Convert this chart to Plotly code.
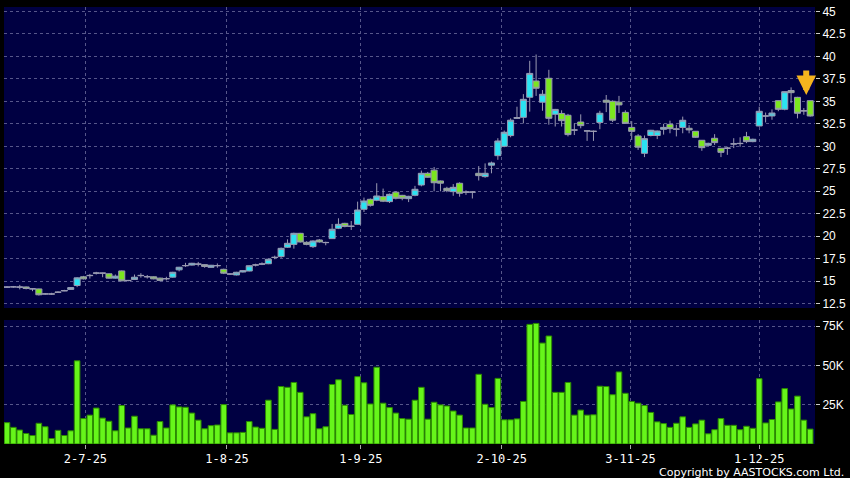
import plotly.graph_objects as go

# ---- data ----
opens = [14.35, 14.38, 14.33, 14.37, 14.18, 14.15, 13.58, 13.60, 13.75, 13.92,
         14.10, 14.53, 15.50, 15.62, 15.90, 15.92, 15.83, 15.35, 16.15, 15.10,
         15.20, 15.62, 15.52, 15.50, 15.35, 15.27, 15.46, 16.27, 16.72, 16.80,
         16.92, 16.85, 16.55, 16.72, 16.33, 15.82, 15.70, 16.03, 16.14, 16.80,
         16.90, 16.95, 17.64, 17.74, 18.78, 19.10, 20.33, 19.33, 18.85, 19.59,
         19.32, 19.74, 20.89, 21.44, 21.10, 21.33, 23.00, 24.11, 24.00, 24.40,
         23.85, 24.90, 24.55, 24.18, 24.55, 25.70, 27.00, 27.35, 26.15, 25.33,
         24.96, 25.89, 24.92, 24.90, 27.00, 26.63, 27.90, 28.96, 30.00, 31.19,
         33.10, 33.22, 35.45, 37.26, 34.90, 37.56, 33.56, 33.65, 33.45, 31.82,
         32.70, 31.72, 31.65, 32.65, 35.12, 35.00, 34.90, 33.77, 32.10, 31.15,
         29.22, 31.20, 31.20, 31.89, 32.44, 31.90, 32.10, 32.00, 31.67, 30.67,
         30.11, 30.89, 29.78, 29.78, 30.25, 30.30, 31.07, 30.52, 32.26, 33.35,
         33.37, 35.07, 34.11, 36.20, 35.44, 33.92, 35.07]
highs = [14.45, 14.48, 14.60, 14.42, 14.20, 14.18, 13.70, 13.72, 13.88, 14.05,
         14.35, 15.45, 15.60, 15.82, 16.05, 15.95, 15.88, 15.75, 16.20, 15.15,
         15.75, 15.90, 15.70, 15.55, 15.40, 15.50, 16.05, 16.60, 17.05, 17.05,
         17.15, 16.90, 16.82, 16.98, 16.40, 15.88, 16.05, 16.22, 16.78, 16.95,
         17.10, 17.50, 17.85, 18.75, 19.66, 20.40, 20.38, 19.45, 19.55, 19.70,
         19.40, 21.37, 22.00, 21.50, 21.70, 23.85, 24.30, 24.20, 25.90, 25.30,
         24.75, 25.00, 24.60, 24.50, 25.60, 27.30, 27.15, 27.70, 26.20, 25.50,
         25.80, 26.00, 25.10, 25.00, 27.80, 28.10, 28.30, 30.90, 31.75, 33.10,
         34.40, 35.80, 39.50, 40.20, 36.25, 38.50, 34.15, 34.00, 33.60, 32.55,
         33.55, 31.75, 31.75, 33.95, 35.70, 35.10, 35.60, 34.00, 32.80, 31.35,
         31.20, 31.82, 31.75, 32.50, 32.85, 32.40, 33.30, 32.35, 31.70, 30.70,
         30.40, 31.35, 29.80, 29.95, 30.90, 31.00, 31.60, 30.85, 34.40, 33.75,
         34.10, 35.10, 36.10, 36.55, 35.50, 34.25, 35.10]
lows = [14.25, 14.28, 14.10, 14.10, 13.90, 13.42, 13.50, 13.48, 13.70, 13.90,
        14.05, 14.35, 15.20, 15.30, 15.75, 15.45, 15.30, 15.30, 15.00, 15.00,
        15.15, 15.40, 15.30, 15.22, 15.00, 15.10, 15.40, 16.10, 16.60, 16.75,
        16.65, 16.50, 16.50, 16.50, 15.80, 15.72, 15.65, 15.98, 16.10, 16.65,
        16.80, 16.90, 17.45, 17.60, 18.70, 18.63, 19.30, 19.00, 18.70, 19.30,
        19.00, 19.70, 20.80, 21.00, 20.70, 21.30, 22.70, 23.30, 23.90, 23.80,
        23.70, 24.10, 24.00, 23.80, 24.45, 25.55, 26.50, 25.00, 25.00, 24.90,
        24.50, 24.40, 24.60, 24.20, 26.20, 26.50, 27.00, 28.50, 29.90, 31.00,
        33.05, 32.55, 33.85, 35.60, 33.95, 32.40, 32.20, 32.20, 31.10, 31.25,
        32.00, 30.60, 30.60, 31.90, 33.80, 32.70, 33.70, 32.50, 30.70, 29.60,
        28.80, 31.10, 30.80, 31.30, 31.45, 31.10, 31.45, 31.45, 30.95, 29.50,
        30.05, 30.15, 28.80, 29.05, 29.80, 29.95, 30.35, 30.45, 32.20, 32.65,
        32.95, 33.90, 34.00, 34.80, 33.10, 33.50, 33.30]
closes = [14.36, 14.38, 14.37, 14.20, 14.15, 13.50, 13.60, 13.58, 13.80, 13.97,
          14.30, 15.38, 15.27, 15.65, 15.92, 15.90, 15.35, 15.57, 15.05, 15.08,
          15.45, 15.65, 15.50, 15.27, 15.10, 15.30, 16.00, 16.56, 16.75, 17.00,
          16.90, 16.65, 16.78, 16.75, 15.90, 15.80, 16.00, 16.18, 16.73, 16.82,
          16.93, 17.45, 17.66, 18.66, 19.22, 20.33, 19.37, 19.10, 19.48, 19.37,
          19.30, 20.78, 21.33, 21.10, 21.12, 22.92, 23.92, 23.44, 24.48, 23.90,
          24.66, 24.22, 24.22, 24.44, 25.22, 27.00, 26.56, 25.95, 25.90, 25.07,
          25.44, 24.78, 24.90, 24.92, 26.74, 27.00, 28.15, 30.59, 31.56, 32.90,
          33.20, 35.22, 38.10, 36.45, 35.78, 33.11, 34.10, 32.85, 31.30, 31.80,
          32.30, 31.70, 31.67, 33.67, 34.90, 32.90, 34.60, 32.55, 31.66, 29.90,
          30.85, 31.78, 31.70, 32.10, 31.96, 31.92, 32.89, 31.82, 31.00, 29.85,
          30.33, 30.41, 29.33, 29.80, 30.27, 30.32, 30.52, 30.78, 33.89, 33.38,
          33.70, 34.11, 36.07, 35.96, 33.67, 33.95, 33.37]
volumes_k = [13.6, 10.6, 8.9, 6.7, 5.4, 13.2, 11.0, 3.5, 8.7, 5.4,
             8.4, 53.0, 16.2, 18.4, 22.9, 16.5, 14.5, 8.4, 24.5, 10.2,
             17.7, 9.7, 9.7, 5.6, 14.3, 10.2, 24.9, 23.6, 23.4, 19.7,
             15.2, 9.7, 11.7, 12.1, 25.1, 7.1, 7.1, 7.4, 14.3, 10.8,
             10.0, 27.9, 9.3, 36.6, 36.1, 39.2, 32.9, 17.3, 19.3, 9.7,
             11.0, 37.9, 40.9, 24.7, 18.8, 42.9, 39.0, 25.5, 48.9, 26.0,
             23.2, 19.7, 16.2, 15.8, 27.9, 36.1, 15.8, 26.6, 24.9, 24.2,
             21.0, 18.4, 10.2, 10.2, 44.4, 25.3, 23.2, 41.8, 15.4, 15.4,
             16.0, 27.1, 76.2, 76.8, 64.3, 68.8, 32.9, 32.9, 39.2, 18.4,
             21.6, 18.4, 18.6, 36.8, 36.6, 31.4, 45.9, 32.3, 27.1, 26.0,
             24.5, 20.1, 14.1, 13.0, 10.6, 13.2, 17.3, 10.6, 12.8, 15.2,
             6.5, 9.1, 16.2, 11.9, 11.9, 9.1, 11.3, 10.0, 41.6, 13.4,
             15.6, 26.8, 35.3, 22.3, 30.5, 15.2, 9.5]

x_labels = ["2-7-25", "1-8-25", "1-9-25", "2-10-25", "3-11-25", "1-12-25"]
x_label_pos = [12.3, 34.5, 55.5, 77.6, 97.8, 118.0]
price_ticks = [12.5, 15, 17.5, 20, 22.5, 25, 27.5, 30, 32.5, 35, 37.5, 40, 42.5, 45]
vol_ticks = [25, 50, 75]
vol_tick_text = ["25K", "50K", "75K"]

# ---- styles ----
NAVY = "#000042"
GRID = "#56568A"
UP_FILL = "#2AE3F2"
DOWN_FILL = "#7BE61E"
WICK = "#9A9AB2"
VOL_FILL = "#66F51A"
VOL_EDGE = "#2C8A00"
AXIS_FONT = dict(family="Liberation Sans, Arial, sans-serif", size=12, color="#FFFFFF")

xs = list(range(len(opens)))

fig = go.Figure()
fig.add_trace(go.Candlestick(
    x=xs, open=opens, high=highs, low=lows, close=closes,
    increasing=dict(fillcolor=UP_FILL, line=dict(color=WICK, width=1)),
    decreasing=dict(fillcolor=DOWN_FILL, line=dict(color=WICK, width=1)),
    xaxis="x", yaxis="y", showlegend=False, hoverinfo="skip",
))
fig.add_trace(go.Bar(
    x=xs, y=volumes_k, marker=dict(color=VOL_FILL, line=dict(color=VOL_EDGE, width=1)),
    xaxis="x2", yaxis="y2", showlegend=False, hoverinfo="skip",
))

xr = [-0.47, 126.75]
common_x = dict(range=xr, tickmode="array", tickvals=x_label_pos, ticktext=x_labels,
                showgrid=True, gridcolor=GRID, griddash="3px,3px", gridwidth=1,
                zeroline=False, showline=False)

fig.update_layout(
    width=850, height=478,
    paper_bgcolor="#000000", plot_bgcolor=NAVY,
    margin=dict(l=4, r=35, t=7, b=34),
    boxgap=0.05, boxgroupgap=0, bargap=0.12,
    xaxis=dict(domain=[0, 1], anchor="y", showticklabels=False, ticks="",
               rangeslider=dict(visible=False), **common_x),
    xaxis2=dict(domain=[0, 1], anchor="y2", showticklabels=True, ticks="outside",
                ticklen=4, tickcolor="#AAAAAA", tickwidth=1,
                tickfont=dict(family="DejaVu Sans Mono, monospace", size=12, color="#FFFFFF"),
                **common_x),
    yaxis=dict(domain=[0.3112, 1], anchor="x", side="right", range=[12.03, 45.48],
               tickmode="array", tickvals=price_ticks, ticks="outside", ticklen=4,
               tickcolor="#CCCCCC", tickfont=AXIS_FONT,
               showgrid=True, gridcolor=GRID, griddash="3px,3px", zeroline=False),
    yaxis2=dict(domain=[0, 0.2838], anchor="x2", side="right", range=[0, 79],
                tickmode="array", tickvals=vol_ticks, ticktext=vol_tick_text,
                ticks="outside", ticklen=4, tickcolor="#CCCCCC", tickfont=AXIS_FONT,
                showgrid=True, gridcolor=GRID, griddash="3px,3px", zeroline=False),
    annotations=[
        dict(x=126, y=35.7, xref="x", yref="y", showarrow=True, ax=0, ay=-26,
             xshift=-4, arrowcolor="#F5B41E", arrowwidth=6, arrowhead=2, arrowsize=0.65,
             standoff=0, text=""),
        dict(x=1.0, y=0, xref="paper", yref="paper", xanchor="right", yanchor="top",
             xshift=31, yshift=-20, showarrow=False, text="Copyright by AASTOCKS.com Ltd.",
             font=dict(family="DejaVu Sans, sans-serif", size=11, color="#FFFFFF")),
    ],
)

fig.write_html("out.html", config={"displayModeBar": False},
               post_script="document.body.style.margin='0';document.body.style.overflow='hidden';")
